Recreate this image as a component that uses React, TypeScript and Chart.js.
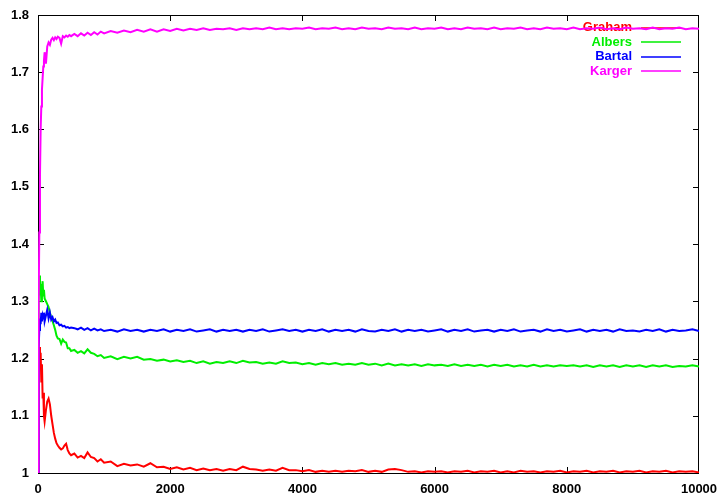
import React, { useEffect, useRef } from 'react';
import { Chart, registerables } from 'chart.js';

Chart.register(...registerables);

// ---- data ----
const X = [
  0, 10, 20, 30, 40, 50, 60, 70, 80, 90, 100,
  120, 140, 160, 180, 200, 220, 240, 260, 280, 300,
  325, 350, 375, 400, 425, 450, 475, 500,
  550, 600, 650, 700, 750, 800, 850, 900, 950, 1000,
  1100, 1200, 1300, 1400, 1500, 1600, 1700, 1800, 1900, 2000,
  2100, 2200, 2300, 2400, 2500, 2600, 2700, 2800, 2900, 3000,
  3100, 3200, 3300, 3400, 3500, 3600, 3700, 3800, 3900, 4000,
  4100, 4200, 4300, 4400, 4500, 4600, 4700, 4800, 4900, 5000,
  5100, 5200, 5300, 5400, 5500, 5600, 5700, 5800, 5900, 6000,
  6100, 6200, 6300, 6400, 6500, 6600, 6700, 6800, 6900, 7000,
  7100, 7200, 7300, 7400, 7500, 7600, 7700, 7800, 7900, 8000,
  8100, 8200, 8300, 8400, 8500, 8600, 8700, 8800, 8900, 9000,
  9100, 9200, 9300, 9400, 9500, 9600, 9700, 9800, 9900, 10000,
];

const GRAHAM = [
  1.0, 1.17, 1.22, 1.19, 1.21, 1.16, 1.19, 1.13, 1.14, 1.10, 1.09,
  1.11, 1.125, 1.13, 1.12, 1.10, 1.085, 1.07, 1.06, 1.052, 1.048,
  1.044, 1.041, 1.043, 1.048, 1.051, 1.040, 1.034, 1.031,
  1.034, 1.027, 1.030, 1.026, 1.036, 1.028, 1.026, 1.020, 1.024, 1.018,
  1.020, 1.012, 1.016, 1.013, 1.015, 1.011, 1.017, 1.010, 1.011, 1.007,
  1.010, 1.006, 1.009, 1.005, 1.008, 1.005, 1.007, 1.004, 1.007, 1.005,
  1.011, 1.007, 1.006, 1.004, 1.006, 1.004, 1.009, 1.005, 1.005, 1.003,
  1.005, 1.002, 1.004, 1.002, 1.004, 1.002, 1.004, 1.003, 1.005, 1.002,
  1.004, 1.002, 1.006, 1.007, 1.005, 1.002, 1.003, 1.001, 1.003, 1.002,
  1.003, 1.001, 1.003, 1.002, 1.004, 1.001, 1.003, 1.002, 1.004, 1.001,
  1.003, 1.001, 1.004, 1.002, 1.003, 1.001, 1.003, 1.002, 1.004, 1.001,
  1.003, 1.002, 1.004, 1.001, 1.003, 1.002, 1.004, 1.001, 1.003, 1.002,
  1.004, 1.001, 1.003, 1.002, 1.004, 1.001, 1.003, 1.002, 1.003, 1.001,
];

const ALBERS = [
  1.0, 1.30, 1.345, 1.31, 1.33, 1.30, 1.325, 1.335, 1.31, 1.32, 1.305,
  1.30, 1.295, 1.29, 1.28, 1.272, 1.265, 1.258, 1.25, 1.24, 1.235,
  1.234, 1.226, 1.233, 1.229, 1.228, 1.218, 1.218, 1.213,
  1.215, 1.210, 1.213, 1.209, 1.216, 1.210, 1.208, 1.204, 1.206, 1.201,
  1.204, 1.199, 1.203, 1.200, 1.203, 1.198, 1.199, 1.196, 1.198, 1.195,
  1.197, 1.194, 1.196, 1.192, 1.195, 1.191, 1.194, 1.192, 1.195, 1.192,
  1.196, 1.193, 1.194, 1.191, 1.193, 1.191, 1.195, 1.192, 1.193, 1.190,
  1.192, 1.189, 1.192, 1.190, 1.192, 1.189, 1.191, 1.189, 1.192, 1.189,
  1.191, 1.188, 1.191, 1.188, 1.190, 1.188, 1.190, 1.187, 1.190, 1.188,
  1.189, 1.187, 1.190, 1.187, 1.189, 1.187, 1.189, 1.186, 1.189, 1.187,
  1.189, 1.186, 1.188, 1.186, 1.189, 1.186, 1.188, 1.186, 1.188, 1.187,
  1.188, 1.186, 1.188, 1.185, 1.188, 1.186, 1.188, 1.185, 1.188, 1.186,
  1.188, 1.185, 1.188, 1.186, 1.188, 1.185, 1.187, 1.186, 1.188, 1.186,
];

const BARTAL = [
  1.0, 1.22, 1.25, 1.27, 1.26, 1.28, 1.265, 1.275, 1.27, 1.28, 1.265,
  1.275, 1.285, 1.27, 1.28, 1.268, 1.272, 1.265, 1.268, 1.262, 1.263,
  1.258, 1.259, 1.256, 1.257, 1.254, 1.255, 1.253, 1.254,
  1.253, 1.251, 1.254, 1.250, 1.253, 1.249, 1.252, 1.249, 1.251, 1.248,
  1.250, 1.247, 1.251, 1.248, 1.250, 1.247, 1.250, 1.248, 1.251, 1.247,
  1.250, 1.248, 1.251, 1.247, 1.249, 1.251, 1.247, 1.250, 1.248, 1.250,
  1.247, 1.250, 1.248, 1.251, 1.247, 1.249, 1.251, 1.248, 1.250, 1.247,
  1.250, 1.248, 1.251, 1.247, 1.250, 1.248, 1.250, 1.247, 1.251, 1.248,
  1.247, 1.250, 1.248, 1.251, 1.247, 1.250, 1.248, 1.250, 1.247, 1.249,
  1.251, 1.247, 1.250, 1.248, 1.251, 1.247, 1.249, 1.250, 1.247, 1.250,
  1.248, 1.251, 1.247, 1.249, 1.250, 1.247, 1.251, 1.248, 1.250, 1.247,
  1.249, 1.251, 1.247, 1.250, 1.248, 1.250, 1.247, 1.251, 1.248, 1.249,
  1.247, 1.250, 1.248, 1.251, 1.247, 1.250, 1.248, 1.249, 1.251, 1.248,
];

const KARGER = [
  1.0, 1.30, 1.42, 1.52, 1.60, 1.64, 1.67, 1.69, 1.71, 1.72, 1.735,
  1.715, 1.745, 1.752, 1.748, 1.757, 1.760, 1.756, 1.761, 1.758, 1.762,
  1.760, 1.750, 1.763, 1.761, 1.764, 1.762, 1.765, 1.763,
  1.767, 1.763, 1.768, 1.764, 1.769, 1.765, 1.770, 1.766, 1.771, 1.768,
  1.772, 1.769, 1.773, 1.770, 1.774, 1.771, 1.775, 1.771, 1.775, 1.772,
  1.776, 1.773, 1.776, 1.774, 1.777, 1.774, 1.776, 1.775, 1.777, 1.774,
  1.777, 1.775, 1.777, 1.775, 1.778, 1.775, 1.777, 1.775, 1.777, 1.776,
  1.778, 1.775, 1.777, 1.776, 1.778, 1.775, 1.777, 1.775, 1.778, 1.776,
  1.777, 1.775, 1.778, 1.776, 1.777, 1.775, 1.778, 1.775, 1.777, 1.776,
  1.778, 1.775, 1.777, 1.775, 1.778, 1.776, 1.777, 1.775, 1.778, 1.775,
  1.777, 1.776, 1.778, 1.775, 1.777, 1.775, 1.778, 1.776, 1.777, 1.775,
  1.778, 1.775, 1.777, 1.776, 1.778, 1.775, 1.777, 1.775, 1.778, 1.776,
  1.777, 1.775, 1.778, 1.775, 1.777, 1.776, 1.778, 1.775, 1.777, 1.776,
];

const SERIES_NAMES = ['Graham', 'Albers', 'Bartal', 'Karger'];
const SERIES_VALUES = [GRAHAM, ALBERS, BARTAL, KARGER];
const X_MIN = 0;
const X_MAX = 10000;
const X_STEP = 2000;
const Y_MIN = 1;
const Y_MAX = 1.8;
const Y_STEP = 0.1;

// ---- styles ----
const COLORS = ['#ff0000', '#00ee00', '#0000ff', '#ff00ff'];
const FONT_FAMILY = "'Liberation Sans', Arial, Helvetica, sans-serif";
const FONT_SIZE = 13;
const FONT_WEIGHT = 'bold';

const gnuplotPlugin = {
  id: 'gnuplotFrame',
  beforeDatasetsDraw(chart: any) {
    const ctx = chart.ctx;
    const { left, right, top, bottom } = chart.chartArea;
    const xs = chart.scales.x;
    const ys = chart.scales.y;
    ctx.save();
    ctx.strokeStyle = '#000';
    ctx.lineWidth = 1;
    ctx.beginPath();
    // inward ticks (mirrored)
    xs.ticks.forEach((t: any) => {
      if (t.value === X_MIN || t.value === X_MAX) return;
      const px = Math.round(xs.getPixelForValue(t.value)) + 0.5;
      ctx.moveTo(px, bottom);
      ctx.lineTo(px, bottom - 6);
      ctx.moveTo(px, top);
      ctx.lineTo(px, top + 6);
    });
    ys.ticks.forEach((t: any) => {
      if (Math.abs(t.value - Y_MIN) < 1e-6 || Math.abs(t.value - Y_MAX) < 1e-6) return;
      const py = Math.round(ys.getPixelForValue(t.value)) + 0.5;
      ctx.moveTo(left, py);
      ctx.lineTo(left + 6, py);
      ctx.moveTo(right, py);
      ctx.lineTo(right - 6, py);
    });
    ctx.stroke();
    // frame
    ctx.strokeRect(left + 0.5, top + 0.5, right - left - 1, bottom - top);

    // key
    ctx.font = `${FONT_WEIGHT} ${FONT_SIZE}px ${FONT_FAMILY}`;
    ctx.textAlign = 'right';
    ctx.textBaseline = 'middle';
    const keyTextX = right - 67;
    const keyLineX0 = right - 58;
    const keyLineX1 = right - 18;
    SERIES_NAMES.forEach((name, i) => {
      const y = top + 12.5 + i * 14.5;
      ctx.fillStyle = COLORS[i];
      ctx.fillText(name, keyTextX, y);
      ctx.strokeStyle = COLORS[i];
      ctx.lineWidth = 1.5;
      ctx.beginPath();
      ctx.moveTo(keyLineX0, Math.round(y));
      ctx.lineTo(keyLineX1, Math.round(y));
      ctx.stroke();
    });
    ctx.restore();
  },
};

export default function App() {
  const ref = useRef<HTMLCanvasElement | null>(null);

  useEffect(() => {
    if (!ref.current) return;
    const datasets = SERIES_NAMES.map((name, i) => ({
      label: name,
      data: X.map((x, j) => ({ x, y: SERIES_VALUES[i][j] })),
      borderColor: COLORS[i],
      backgroundColor: COLORS[i],
      borderWidth: 2,
      pointRadius: 0,
      tension: 0,
      fill: false,
      order: SERIES_NAMES.length - i,
    }));
    const chart = new Chart(ref.current, {
      type: 'line',
      data: { datasets },
      plugins: [gnuplotPlugin],
      options: {
        animation: false,
        responsive: false,
        maintainAspectRatio: false,
        devicePixelRatio: 1,
        layout: { padding: { left: 0, right: 18, top: 15, bottom: 0 } },
        plugins: { legend: { display: false }, tooltip: { enabled: false } },
        events: [],
        scales: {
          x: {
            type: 'linear',
            min: X_MIN,
            max: X_MAX,
            grid: { display: false, drawTicks: false },
            border: { display: false },
            ticks: {
              stepSize: X_STEP,
              padding: 9,
              color: '#000',
              font: { family: FONT_FAMILY, size: FONT_SIZE, weight: FONT_WEIGHT },
              maxRotation: 0,
              autoSkip: false,
              callback: (v: any) => String(v),
            },
            afterFit: (s: any) => {
              s.height = 21;
              s.paddingLeft = 0;
              s.paddingRight = 0;
            },
          },
          y: {
            type: 'linear',
            min: Y_MIN,
            max: Y_MAX,
            grid: { display: false, drawTicks: false },
            border: { display: false },
            ticks: {
              stepSize: Y_STEP,
              padding: 9,
              color: '#000',
              font: { family: FONT_FAMILY, size: FONT_SIZE, weight: FONT_WEIGHT },
              autoSkip: false,
              callback: (v: any) => String(Number(Number(v).toFixed(1))),
            },
            afterFit: (s: any) => {
              s.width = 38;
              s.paddingTop = 0;
              s.paddingBottom = 0;
            },
          },
        },
      },
    });
    return () => chart.destroy();
  }, []);

  return (
    <div style={{ position: 'fixed', left: 0, top: 0, width: 717, height: 494, background: '#fff' }}>
      <canvas ref={ref} width={717} height={494} style={{ width: 717, height: 494, display: 'block' }} />
    </div>
  );
}
